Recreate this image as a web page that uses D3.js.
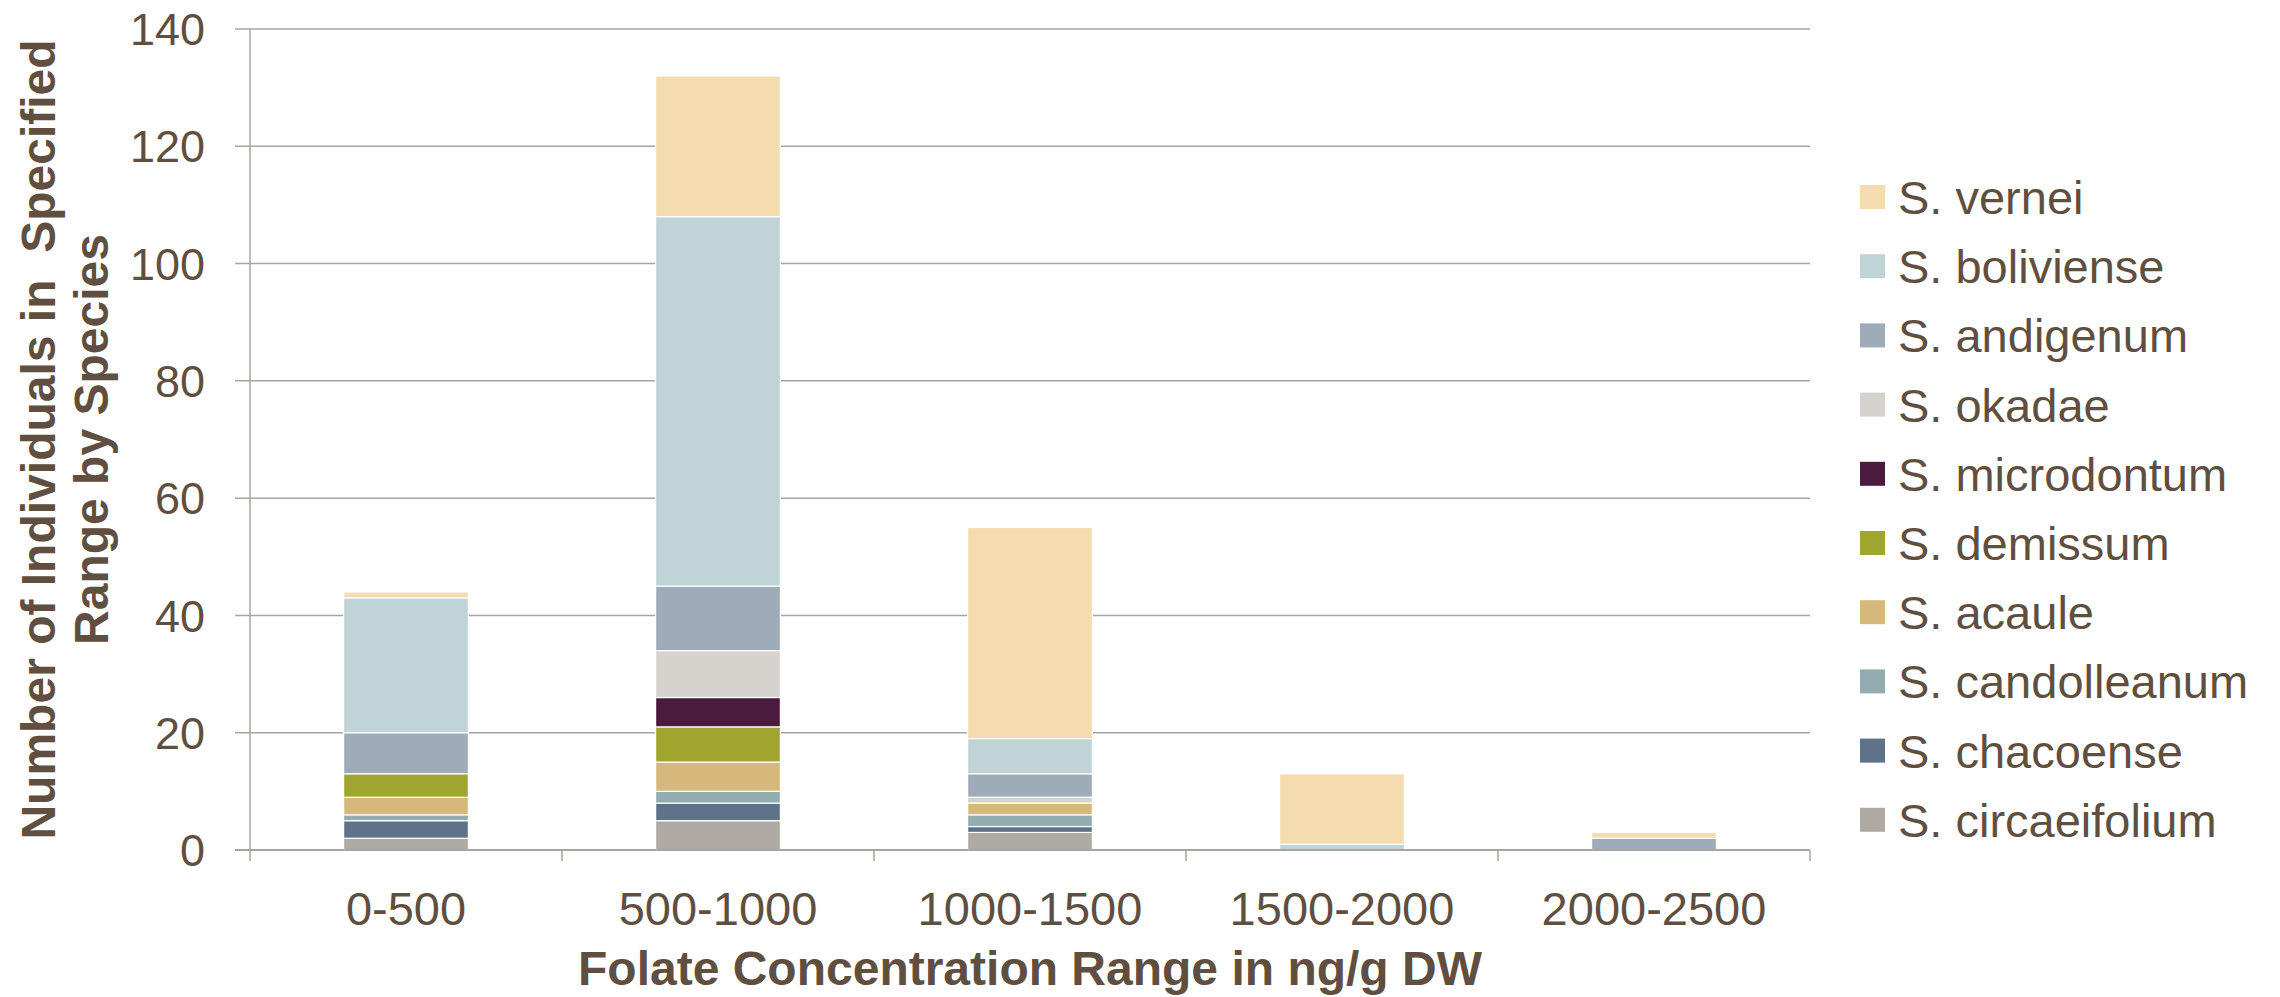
<!DOCTYPE html>
<html>
<head>
<meta charset="utf-8">
<script src="https://cdn.jsdelivr.net/npm/d3@7/dist/d3.min.js"></script>
<style>
  html, body { margin: 0; padding: 0; background: #fff; }
  svg { display: block; }
  text { font-family: "Liberation Sans", Arial, sans-serif; fill: #604f40; }
</style>
</head>
<body>
<svg id="chart" width="2280" height="997"></svg>
<script>
// Folate concentration ranges (ng/g DW)
const ranges = ["0-500", "500-1000", "1000-1500", "1500-2000", "2000-2500"];

// Species, listed bottom of stack first
const species = ["S. circaeifolium", "S. chacoense", "S. candolleanum", "S. acaule",
  "S. demissum", "S. microdontum", "S. okadae", "S. andigenum", "S. boliviense", "S. vernei"];

// Number of individuals per range, one array per species
const circaeifolium = [2, 5, 3, 0, 0];
const chacoense     = [3, 3, 1, 0, 0];
const candolleanum  = [1, 2, 2, 0, 0];
const acaule        = [3, 5, 2, 0, 0];
const demissum      = [4, 6, 0, 0, 0];
const microdontum   = [0, 5, 0, 0, 0];
const okadae        = [0, 8, 1, 0, 0];
const andigenum     = [7, 11, 4, 0, 2];
const boliviense    = [23, 63, 6, 1, 0];
const vernei        = [1, 24, 36, 12, 1];

const yTicks = [0, 20, 40, 60, 80, 100, 120, 140];

const colors = ["#aea9a2", "#5e7389", "#92acb2", "#d6b77c", "#a0a52e",
  "#4a1a3f", "#d6d3ce", "#9eabb8", "#c0d3d7", "#f4dcb0"];

const seriesValues = [circaeifolium, chacoense, candolleanum, acaule, demissum,
  microdontum, okadae, andigenum, boliviense, vernei];

const table = ranges.map((r, i) => {
  const row = { range: r };
  species.forEach((s, k) => { row[s] = seriesValues[k][i]; });
  return row;
});

const svg = d3.select("#chart");
const plotLeft = 250, plotRight = 1810, plotTop = 29, plotBottom = 850;

const x = d3.scaleBand().domain(ranges).range([plotLeft, plotRight]).paddingInner(0.6).paddingOuter(0.3);
const y = d3.scaleLinear().domain([0, 140]).range([plotBottom, plotTop]);
const color = d3.scaleOrdinal().domain(species).range(colors);

const gridColor = "#a8a4a0";

// horizontal gridlines
svg.append("g").selectAll("line").data(yTicks).join("line")
  .attr("x1", plotLeft - 15).attr("x2", plotRight)
  .attr("y1", d => y(d)).attr("y2", d => y(d))
  .attr("stroke", gridColor).attr("stroke-width", 1.5);

// y tick labels
svg.append("g").selectAll("text").data(yTicks).join("text")
  .attr("x", 205).attr("y", d => y(d))
  .attr("dy", "0.36em")
  .attr("text-anchor", "end")
  .attr("font-size", 45)
  .text(d => d);

// stacked bars
const stacked = d3.stack().keys(species)(table);
svg.append("g").selectAll("g").data(stacked).join("g")
  .attr("fill", d => color(d.key))
  .selectAll("rect").data(d => d.filter(p => p[1] - p[0] > 0)).join("rect")
  .attr("x", d => x(d.data.range))
  .attr("width", x.bandwidth())
  .attr("y", d => y(d[1]))
  .attr("height", d => y(d[0]) - y(d[1]))
  .attr("stroke", "#ffffff").attr("stroke-width", 1.2);

// axis lines
svg.append("line").attr("x1", plotLeft).attr("x2", plotLeft).attr("y1", plotTop).attr("y2", plotBottom + 11)
  .attr("stroke", gridColor).attr("stroke-width", 1.5);
svg.append("line").attr("x1", plotLeft - 15).attr("x2", plotRight).attr("y1", plotBottom).attr("y2", plotBottom)
  .attr("stroke", gridColor).attr("stroke-width", 2);

// category boundary ticks on the x axis
const boundaries = ranges.map(r => x(r) - x.step() * x.paddingInner() / 2 + x.step());
svg.append("g").selectAll("line").data(boundaries).join("line")
  .attr("x1", d => d).attr("x2", d => d)
  .attr("y1", plotBottom).attr("y2", plotBottom + 11)
  .attr("stroke", gridColor).attr("stroke-width", 1.5);

// x tick labels
svg.append("g").selectAll("text").data(ranges).join("text")
  .attr("x", d => x(d) + x.bandwidth() / 2)
  .attr("y", 925)
  .attr("text-anchor", "middle")
  .attr("font-size", 47)
  .text(d => d);

// axis titles
svg.append("text")
  .attr("x", (plotLeft + plotRight) / 2).attr("y", 985)
  .attr("text-anchor", "middle")
  .attr("font-size", 48).attr("font-weight", "bold")
  .text("Folate Concentration Range in ng/g DW");

const yTitle = svg.append("text")
  .attr("transform", `translate(0, ${(plotTop + plotBottom) / 2}) rotate(-90)`)
  .attr("text-anchor", "middle")
  .attr("font-size", 48).attr("font-weight", "bold")
  .style("white-space", "pre");
yTitle.append("tspan").attr("x", 0).attr("y", 55).text("Number of Individuals in  Specified");
yTitle.append("tspan").attr("x", 0).attr("y", 108).text("Range by Species");

// legend, top entry is the top of the stack
const legendItems = species.slice().reverse();
const legend = svg.append("g").selectAll("g").data(legendItems).join("g")
  .attr("transform", (d, i) => `translate(1860, ${197 + i * 69.2})`);
legend.append("rect")
  .attr("x", 0).attr("y", -12).attr("width", 25).attr("height", 24)
  .attr("fill", d => color(d));
legend.append("text")
  .attr("x", 38).attr("y", 0).attr("dy", "0.36em")
  .attr("font-size", 47)
  .text(d => d);
</script>
</body>
</html>
